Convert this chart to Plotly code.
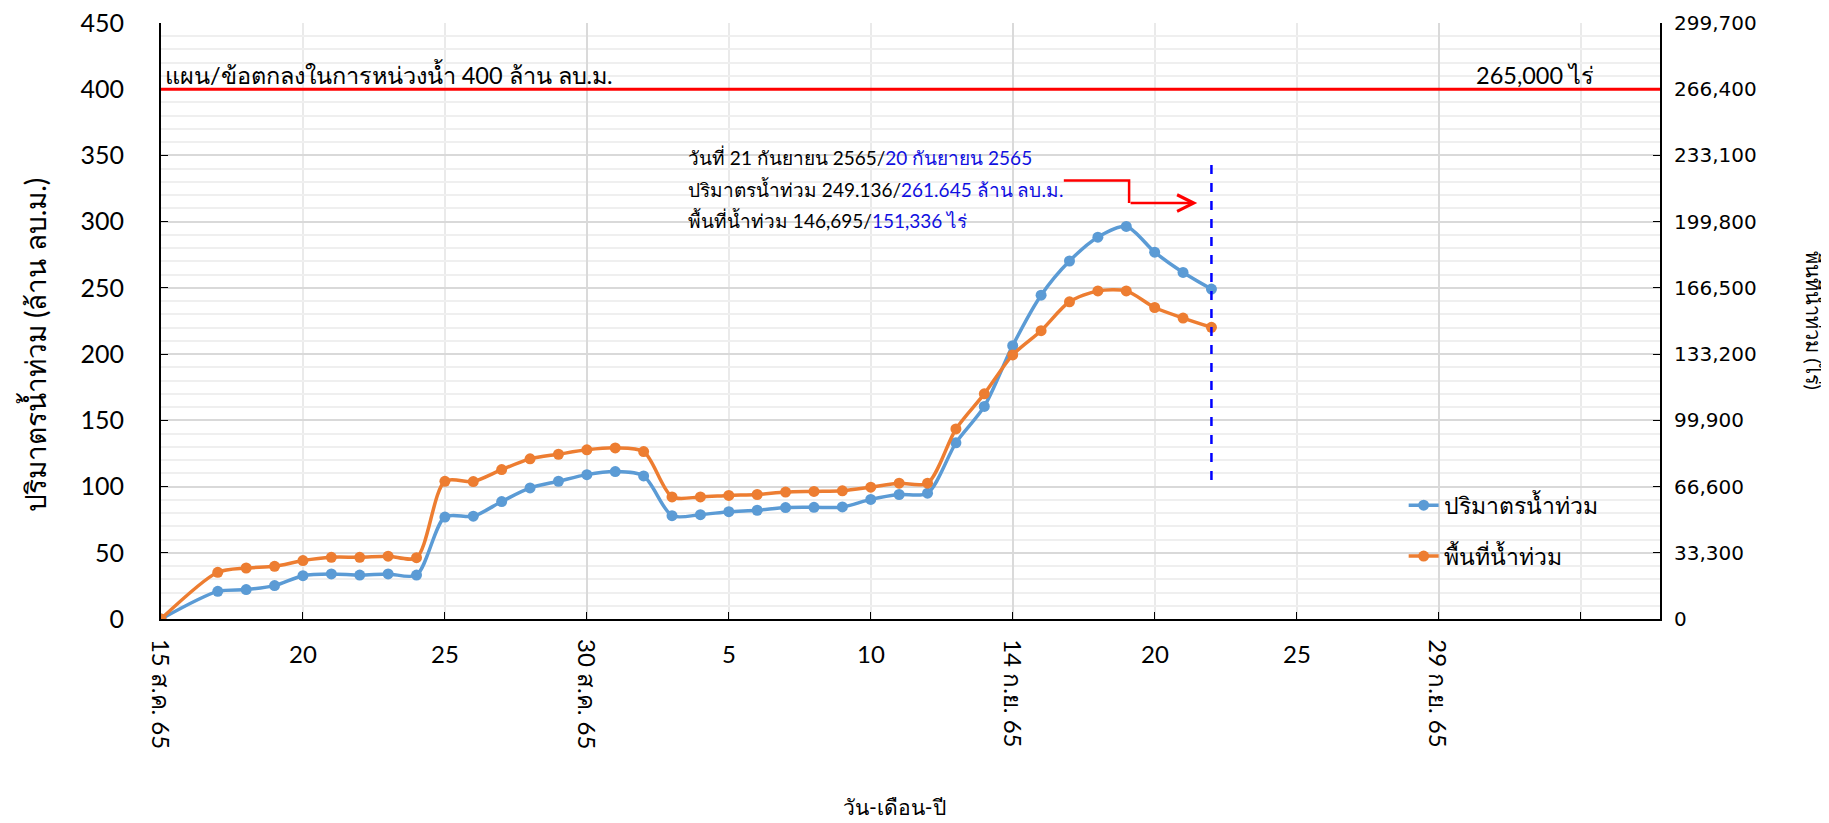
import plotly.graph_objects as go

# category index of each reading (index 1 has no reading)
day_idx = [0, 2, 3, 4, 5, 6, 7, 8, 9, 10, 11, 12, 13, 14, 15, 16, 17, 18, 19,
           20, 21, 22, 23, 24, 25, 26, 27, 28, 29, 30, 31, 32, 33, 34, 35, 36, 37]

# ปริมาตรน้ำท่วม (ล้าน ลบ.ม.)
volume = [0, 20.9, 22.2, 25.2, 32.7, 34.0, 33.2, 34.0, 33.2, 77.0, 77.6, 88.7,
          99.0, 104.0, 109.0, 111.3, 108.0, 78.0, 78.8, 81.0, 82.1, 84.1, 84.3,
          84.6, 90.3, 94.0, 95.0, 133.0, 160.5, 206.4, 244.5, 270.3, 288.3,
          296.4, 277.0, 261.645, 249.136]

# พื้นที่น้ำท่วม (ไร่)
area = [0, 23500, 25640, 26500, 29370, 31040, 31040, 31570, 30840, 69260,
        69130, 75120, 80520, 82850, 85050, 86050, 84180, 61410, 61410, 62140,
        62600, 63800, 64140, 64470, 66270, 68270, 68270, 95570, 113220, 132800,
        144990, 159510, 164970, 164970, 156640, 151336, 146695]

tick_pos = [0, 5, 10, 15, 20, 25, 30, 35, 40, 45]
tick_text = ["15 ส.ค. 65", "20", "25", "30 ส.ค. 65", "5", "10", "14 ก.ย. 65",
             "20", "25", "29 ก.ย. 65"]

plan_volume = 400
plan_area = 265000

y_ticks = list(range(0, 451, 50))
y2_ticks = list(range(0, 299701, 33300))

FONT = "Lato, Noto Sans, sans-serif"
BLUE = "#5B9BD5"
ORANGE = "#ED7D31"

fig = go.Figure()
fig.add_trace(go.Scatter(x=day_idx, y=volume, name="ปริมาตรน้ำท่วม",
                         mode="lines+markers", line=dict(color=BLUE, width=3.5, shape="spline", smoothing=0.8),
                         marker=dict(size=11, color=BLUE), legendgroup="a"))
fig.add_trace(go.Scatter(x=day_idx, y=area, name="พื้นที่น้ำท่วม", yaxis="y2",
                         mode="lines+markers", line=dict(color=ORANGE, width=3.5, shape="spline", smoothing=0.8),
                         marker=dict(size=11, color=ORANGE), legendgroup="b"))

# plan line
fig.add_shape(type="line", xref="paper", x0=0, x1=1, yref="y", y0=plan_volume, y1=plan_volume,
              line=dict(color="#FF0000", width=3), layer="above")
# latest day marker
last = day_idx[-1]
fig.add_shape(type="line", x0=last, x1=last, y0=105, y1=343,
              line=dict(color="#0000FF", width=2.5, dash="dash"))
# red elbow arrow
fig.add_shape(type="path", path="M 31.8 331 L 34.1 331 L 34.1 314",
              line=dict(color="#FF0000", width=2.5))
fig.add_annotation(x=36.5, y=314, ax=34.1, ay=314, xref="x", yref="y", axref="x", ayref="y",
                   text="", showarrow=True, arrowhead=5, arrowsize=1.3, arrowwidth=2.5,
                   arrowcolor="#FF0000")

fig.add_annotation(x=0, y=plan_volume, xref="x", yref="y", xanchor="left", yanchor="bottom",
                   text="แผน/ข้อตกลงในการหน่วงน้ำ 400 ล้าน ลบ.ม.", showarrow=False,
                   font=dict(size=23.5, color="black"), xshift=2, yshift=-2)
fig.add_annotation(x=0.957, y=plan_volume, xref="paper", yref="y", xanchor="right", yanchor="bottom",
                   text=f"{plan_area:,} ไร่", showarrow=False,
                   font=dict(size=23.5, color="black"), yshift=-2)

info = [
    ("วันที่ 21 กันยายน 2565/", "20 กันยายน 2565", 349),
    ("ปริมาตรน้ำท่วม 249.136/", "261.645 ล้าน ลบ.ม.", 324.5),
    ("พื้นที่น้ำท่วม 146,695/", "151,336 ไร่", 301),
]
for black, blue, yy in info:
    fig.add_annotation(x=18.5, y=yy, xref="x", yref="y", xanchor="left", yanchor="middle",
                       text=f"{black}<span style='color:#1010E0'>{blue}</span>",
                       showarrow=False, font=dict(size=19, color="black"))

# x tick labels (long ones rotated)
for p, t in zip(tick_pos, tick_text):
    fig.add_annotation(x=p, y=-0.03, xref="x", yref="paper", text=t,
                       textangle=90 if " " in t else 0,
                       xanchor="center", yanchor="top", showarrow=False,
                       font=dict(size=24, color="black"))

fig.add_annotation(x=0.489, y=-0.315, xref="paper", yref="paper", text="วัน-เดือน-ปี",
                   xanchor="center", yanchor="middle",
                   showarrow=False, font=dict(size=21, color="black"))
fig.add_annotation(x=-0.0845, y=0.46, xref="paper", yref="paper", text="ปริมาตรน้ำท่วม (ล้าน ลบ.ม.)",
                   xanchor="center", yanchor="middle",
                   textangle=-90, showarrow=False, font=dict(size=28, color="black"))
fig.add_annotation(x=1.113, y=0.5, xref="paper", yref="paper", text="พื้นที่น้ำท่วม (ไร่)",
                   xanchor="right", yanchor="middle",
                   textangle=90, showarrow=False, font=dict(size=20, color="black"))

fig.update_layout(
    width=1829, height=823,
    margin=dict(l=153, r=177, t=15, b=212),
    paper_bgcolor="white", plot_bgcolor="white",
    font=dict(family=FONT, size=20, color="black"),
    showlegend=True,
    legend=dict(x=0.829, y=0.227, xanchor="left", yanchor="top", bgcolor="rgba(0,0,0,0)",
                font=dict(size=23), tracegroupgap=18, traceorder="grouped"),
    xaxis=dict(range=[0, 52.8], showline=True, linecolor="black", linewidth=2,
               automargin=False,
               tickmode="array", tickvals=[0, 15, 30, 45], showticklabels=False,
               ticks="inside", ticklen=7, tickcolor="black",
               showgrid=True, gridcolor="#DADADA", gridwidth=1.5, zeroline=False,
               minor=dict(tickmode="array", tickvals=[5, 10, 20, 25, 35, 40, 50],
                          ticks="inside", ticklen=7, tickcolor="black",
                          showgrid=True, gridcolor="#EAEAEA", gridwidth=1.5)),
    yaxis=dict(range=[0, 450], tickmode="array", tickvals=y_ticks, showline=True,
               automargin=False,
               linecolor="black", linewidth=2, ticks="inside", ticklen=7, tickcolor="black",
               showgrid=True, gridcolor="#D9D9D9", gridwidth=1.5, zeroline=False,
               ticklabelstandoff=30, ticklabeloverflow="allow", tickfont=dict(size=25),
               minor=dict(dtick=10, showgrid=True, gridcolor="#EFEFEF", gridwidth=1.5)),
    yaxis2=dict(range=[0, 299700], tickmode="array", tickvals=y2_ticks, tickformat=",d",
                automargin=False,
                overlaying="y", side="right", showline=True, linecolor="black", linewidth=2,
                ticks="inside", ticklen=7, tickcolor="black", showgrid=False, zeroline=False,
                ticklabelstandoff=8, ticklabeloverflow="allow",
                tickfont=dict(family="DejaVu Sans", size=20)),
)

fig.write_html("out.html")
